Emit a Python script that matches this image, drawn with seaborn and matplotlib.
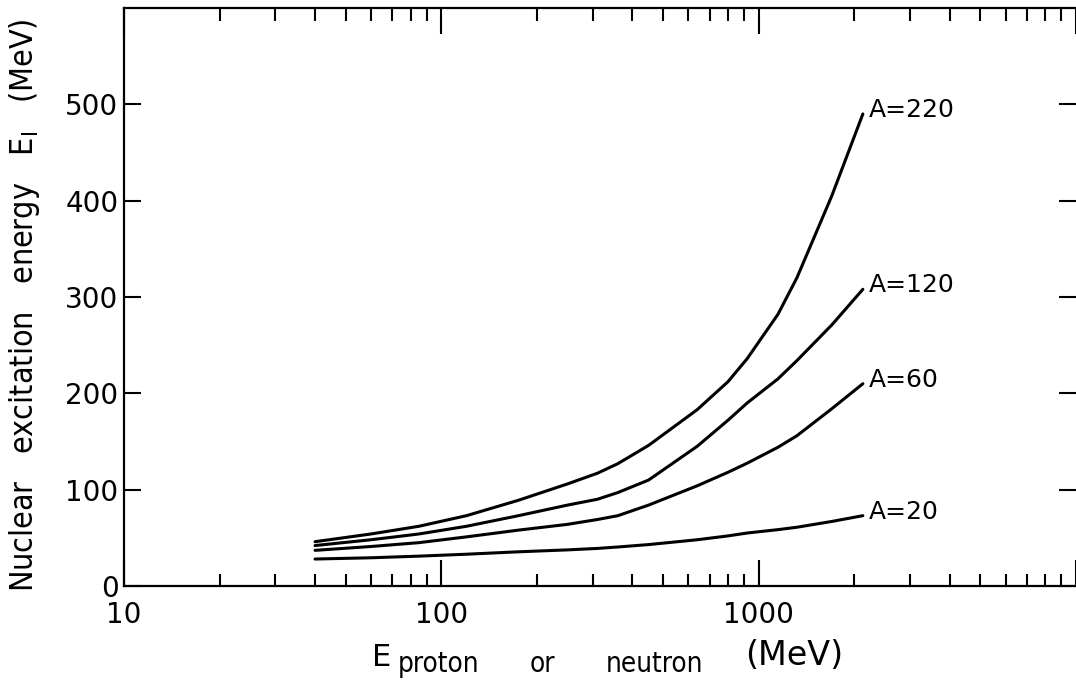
import numpy as np
import pandas as pd
import matplotlib
matplotlib.use("Agg")
import matplotlib.pyplot as plt
import seaborn as sns
from matplotlib.ticker import FixedLocator, LogLocator, NullFormatter, NullLocator

# ---- data ----
energy_mev = [40, 60, 85, 120, 175, 250, 310, 360, 450, 640, 800, 920, 1150, 1320, 1700, 2130]
excitation_a220 = [46, 54, 62, 73, 89, 106, 117, 127, 146, 183, 212, 236, 282, 320, 405, 490]
excitation_a120 = [42, 48, 54, 62, 73, 84, 90, 97, 110, 145, 172, 190, 215, 234, 271, 308]
excitation_a60 = [37, 41, 45, 51, 58, 64, 69, 73, 84, 104, 118, 127.5, 144, 156, 184, 210]
excitation_a20 = [28, 29.3, 31, 33, 35.5, 37.5, 39, 40.5, 43, 48, 52, 55, 58.5, 61, 67, 73]
mass_numbers = [220, 120, 60, 20]
curve_labels = ["A=220", "A=120", "A=60", "A=20"]
x_tick_values = [10, 100, 1000, 10000]
x_tick_labels = ["10", "100", "1000", ""]
y_tick_values = [0, 100, 200, 300, 400, 500]

series = {220: excitation_a220, 120: excitation_a120, 60: excitation_a60, 20: excitation_a20}
rows = []
for a in mass_numbers:
    for e, v in zip(energy_mev, series[a]):
        rows.append({"E": e, "Ex": v, "A": a})
df = pd.DataFrame(rows)

sns.set_theme(style="ticks")
plt.rcParams["font.family"] = ["DejaVu Sans"]
plt.rcParams["mathtext.default"] = "regular"
plt.rcParams["text.color"] = "black"

W, H = 1076, 680
fig = plt.figure(figsize=(W / 100, H / 100), dpi=100)
ax = fig.add_axes([124 / W, (H - 586) / H, (W - 124) / W, (586 - 8) / H])

sns.lineplot(data=df, x="E", y="Ex", hue="A", palette={a: "black" for a in mass_numbers},
             estimator=None, sort=False, legend=False, linewidth=2.2, ax=ax)

ax.set_xscale("log")
ax.set_xlim(10, 10000)
ax.set_ylim(0, 600)
ax.set_xlabel("")
ax.set_ylabel("")

ax.xaxis.set_major_locator(FixedLocator(x_tick_values))
ax.set_xticklabels(x_tick_labels)
ax.xaxis.set_minor_locator(LogLocator(base=10, subs=np.arange(2, 10)))
ax.xaxis.set_minor_formatter(NullFormatter())
ax.set_yticks(y_tick_values)
ax.set_yticklabels([str(v) for v in y_tick_values])
ax.yaxis.set_minor_locator(NullLocator())

ax.tick_params(axis="x", which="major", direction="in", length=19, width=1.5,
               top=True, bottom=True, labelsize=20, pad=11, colors="black")
ax.tick_params(axis="x", which="minor", direction="in", length=9, width=1.5,
               top=True, bottom=True, colors="black")
ax.tick_params(axis="y", which="major", direction="in", length=12, width=1.5,
               left=True, right=True, labelsize=20, pad=4, colors="black")

for side in ["left", "top", "bottom"]:
    ax.spines[side].set_linewidth(1.6)
    ax.spines[side].set_color("black")
ax.spines["right"].set_visible(False)

for a, lab in zip(mass_numbers, curve_labels):
    ax.annotate(lab, xy=(energy_mev[-1], series[a][-1]), xytext=(4, 3),
                textcoords="offset points", ha="left", va="center", fontsize=18, color="black")

# axis titles
fig.text(25 / W, 1 - 305 / H, "Nuclear   excitation   energy   $E_{I}$   (MeV)",
         rotation=90, ha="center", va="center", fontsize=23, fontstretch="condensed", color="black")
fig.text(372 / W, 1 - 666 / H, "E", ha="left", va="baseline", fontsize=22, color="black")
fig.text(398 / W, 1 - 672 / H, "proton", ha="left", va="baseline", fontsize=20,
         fontstretch="condensed", color="black")
fig.text(530 / W, 1 - 672 / H, "or", ha="left", va="baseline", fontsize=20,
         fontstretch="condensed", color="black")
fig.text(606 / W, 1 - 672 / H, "neutron", ha="left", va="baseline", fontsize=20,
         fontstretch="condensed", color="black")
fig.text(745 / W, 1 - 665 / H, "(MeV)", ha="left", va="baseline", fontsize=24, color="black")

fig.savefig("out.png", dpi=100)
